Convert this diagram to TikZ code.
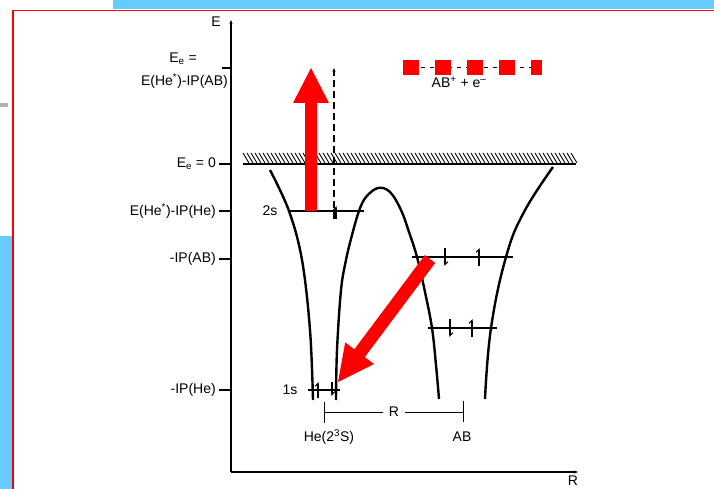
\documentclass[tikz,border=0pt]{standalone}
\usepackage{fontspec}
\setmainfont{Liberation Sans}
\usetikzlibrary{arrows.meta, calc, positioning}

\definecolor{slideblue}{RGB}{102,204,255}

\tikzset{
  lbl/.style={font=\fontsize{14}{16}\selectfont, inner sep=1pt},
  curve/.style={line width=2.4pt},
  level/.style={line width=1.5pt},
  spin/.style={line width=1.1pt, -{Straight Barb[left,length=3pt,width=6pt]}},
  redarrow/.style={fill=red, draw=none}
}

\begin{document}
\begin{tikzpicture}[x=1pt, y=-1pt]
    \useasboundingbox (0,0) rectangle (714,489);

    % Slide background
    \fill[slideblue] (113,0) rectangle (714,9);
    \fill[slideblue] (0,236) rectangle (12,489);
    \fill[gray!60] (0,103) rectangle (8,107);
    \draw[red, line width=1.5pt] (714,10.5) -- (13,10.5) -- (13,489);

    % Axes
    \coordinate (O) at (231,472);
    \coordinate (Etop) at (231,20);
    \coordinate (Rend) at (578,472);
    \draw[line width=1.7pt, -{Stealth[length=4pt]}] (O) -- (Etop);
    \draw[line width=1.7pt, -{Stealth[length=4pt]}] (O) -- (Rend);
    \node[lbl] (Elab) at (216,22) {E};
    \node[lbl] (Rlab) at (573,481) {R};

    % Energy ticks
    \foreach \y/\nm/\txt in {164/zero/{E\textsubscript{e} = 0},
                             211/twos/{E(He\textsuperscript{*})-IP(He)},
                             259/ipab/{-IP(AB)},
                             390/iphe/{-IP(He)}} {
        \draw[line width=1.2pt] (219,\y) -- (231,\y);
        \node[lbl, anchor=east] (\nm) at (217,\y) {\txt};
    }
    \draw[line width=1.2pt] (222,68) -- (231,68);
    \node[lbl] (eelab) at (183,59) {E\textsubscript{e} =};
    \node[lbl, anchor=east] (eeval) at (229,81) {E(He\textsuperscript{*})-IP(AB)};

    % Continuum edge with hatching
    \draw[line width=1.8pt] (243,164) -- (576,164);
    \foreach \x in {243,247,...,571}
        \draw[line width=0.9pt] (\x,153) -- (\x+6,163);

    % Potential curves
    \draw[curve] plot[smooth, tension=0.6] coordinates {(270,170) (289,211) (302,260) (310,330) (313,400)};
    \draw[curve] plot[smooth, tension=0.6] coordinates {(336,400) (337,350) (341,290) (346,260) (352,235) (359,211) (366,197) (378,188) (390,192) (401,210) (409,232) (417,257) (425,292) (432,328) (436,365) (439,399)};
    \draw[curve] plot[smooth, tension=0.7] coordinates {(485,399) (491,328) (506,257) (524,212) (553,167)};

    % Levels
    \draw[level] (288,211) -- (364,211);
    \draw[level] (412,257) -- (513,257);
    \draw[level] (428,328) -- (497,328);
    \draw[level] (308,390) -- (340,390);
    \node[lbl] (twoslab) at (270,211) {2s};
    \node[lbl] (oneslab) at (290,390) {1s};

    % Electrons
    \draw[spin] (318,398) -- (318,382);
    \draw[spin] (332,382) -- (332,396);
    \draw[spin] (445,248) -- (445,266);
    \draw[spin] (479,266) -- (479,248);
    \draw[spin] (450,319) -- (450,337);
    \draw[spin] (472,337) -- (472,319);
    \draw[spin] (336,219) -- (336,206);

    % Ejected electron
    \draw[line width=1.2pt, dash pattern=on 7pt off 4pt, -{Stealth[length=4pt]}] (334,219) -- (334,68);

    % Final state level
    \draw[line width=1pt, dash pattern=on 4pt off 5pt] (403,68) -- (540,68);
    \foreach \x in {403,435,467,499}
        \fill[red] (\x,60) rectangle +(16,15);
    \fill[red] (531,60) rectangle (542,75);
    \node[lbl] (ionlab) at (459,82) {AB\textsuperscript{+} + e\textsuperscript{--}};

    % Internuclear distance
    \coordinate (hepos) at (324,412);
    \coordinate (abpos) at (463,412);
    \draw[line width=1pt] (324,402) -- (324,423);
    \draw[line width=1pt] (463,401) -- (463,422);
    \node[lbl, inner xsep=6pt] (Rdist) at (394,412) {R};
    \draw[line width=1pt] (hepos) -- (Rdist.west);
    \draw[line width=1pt] (Rdist.east) -- (abpos);
    \node[lbl] (helab) at (329,437) {He(2\textsuperscript{3}S)};
    \node[lbl] (ablab) at (462,437) {AB};

    % Red arrows
    \fill[redarrow] (305,211) -- (305,103) -- (293,103) -- (311,68) -- (329,103) -- (317,103) -- (317,211) -- cycle;
    \fill[redarrow] (424.8,255.1) -- (354.4,349.3) -- (345.2,342.4) -- (338,382) -- (374,364) -- (364.8,357.1) -- (435.2,262.9) -- cycle;

\end{tikzpicture}
\end{document}
